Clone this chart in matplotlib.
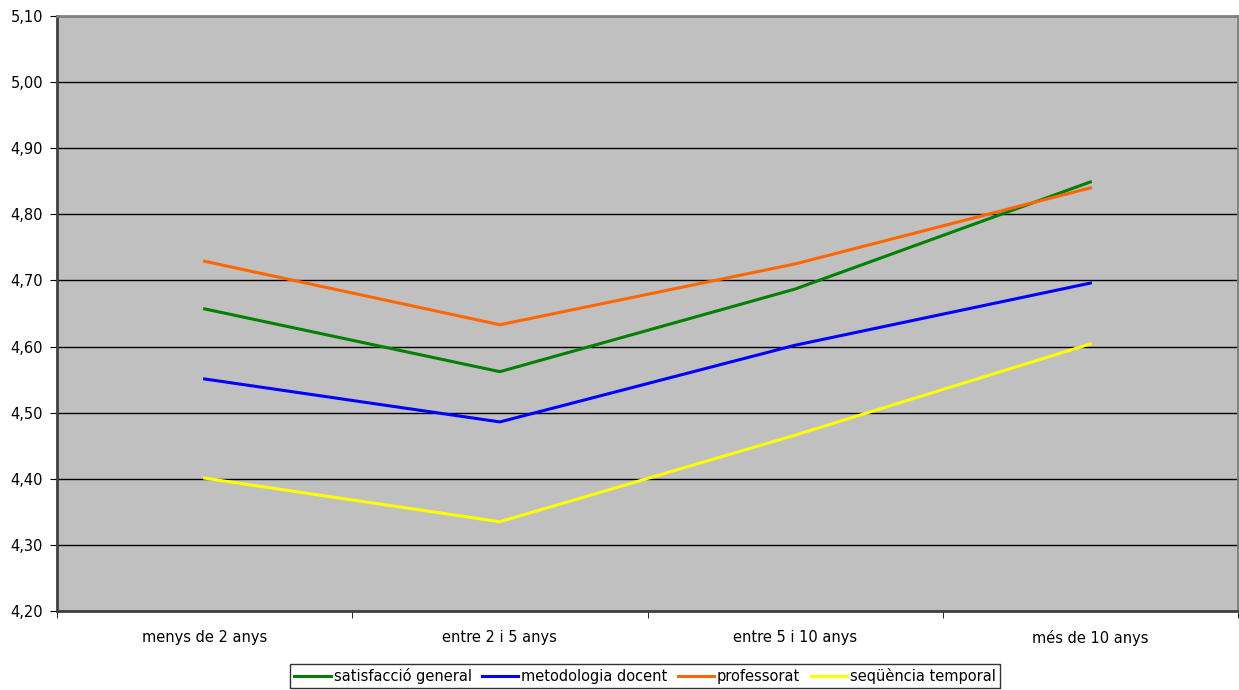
import numpy as np
import matplotlib.pyplot as plt
from matplotlib.ticker import FuncFormatter, MultipleLocator

plt.rcParams['font.family'] = ['DejaVu Sans']

categories = ['menys de 2 anys', 'entre 2 i 5 anys', 'entre 5 i 10 anys', 'més de 10 anys']
satisfaccio = [4.657, 4.562, 4.687, 4.849]
metodologia = [4.551, 4.486, 4.602, 4.696]
professorat = [4.729, 4.633, 4.725, 4.840]
sequencia = [4.401, 4.335, 4.466, 4.604]

series = [
    ('satisfacció general', satisfaccio, '#008000'),
    ('metodologia docent', metodologia, '#0000ff'),
    ('professorat', professorat, '#ff6600'),
    ('seqüència temporal', sequencia, '#ffff00'),
]

fig = plt.figure(figsize=(12.39, 6.90), dpi=100)
ax = fig.add_axes([57 / 1239, 79 / 690, 1181 / 1239, 595 / 690])
ax.set_facecolor('#c0c0c0')

x = np.arange(len(categories))
for nom, vals, col in series:
    ax.plot(x, vals, color=col, lw=2.2, label=nom, zorder=3)

ax.set_xlim(-0.5, len(categories) - 0.5)
ax.set_ylim(4.20, 5.10)
ax.yaxis.set_major_locator(MultipleLocator(0.10))
ax.yaxis.set_major_formatter(FuncFormatter(lambda v, p: f"{v:.2f}".replace('.', ',')))
ax.grid(axis='y', color='black', lw=1, zorder=1)

ax.set_xticks(x)
ax.set_xticklabels(categories, fontsize=10.5)
ax.set_xticks(np.arange(len(categories) + 1) - 0.5, minor=True)
ax.tick_params(axis='x', which='major', length=0, pad=14)
ax.tick_params(axis='x', which='minor', length=5, color='black', direction='out')
ax.tick_params(axis='y', length=5, color='black', labelsize=10.5, pad=5)

for lado in ['left', 'bottom']:
    ax.spines[lado].set_color('#404040')
    ax.spines[lado].set_linewidth(2)
for lado in ['top', 'right']:
    ax.spines[lado].set_color('#808080')
    ax.spines[lado].set_linewidth(2)

leg = fig.legend(loc='center', bbox_to_anchor=(645 / 1239, 14 / 690), ncol=4, fontsize=10.5,
                 frameon=True, fancybox=False, edgecolor='black', handlelength=2.5,
                 handletextpad=0.2, columnspacing=0.7, borderpad=0.3, borderaxespad=0)
leg.get_frame().set_linewidth(1)

fig.savefig('out.png', dpi=100)
